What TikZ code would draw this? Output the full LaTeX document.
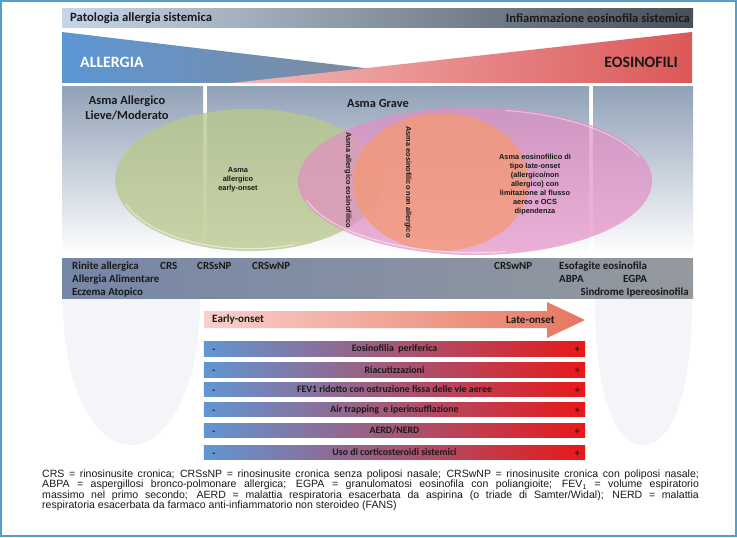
\documentclass[tikz,border=0pt]{standalone}
\usepackage{fontspec}
\setmainfont{Carlito}
\newfontfamily\narrowfont{Liberation Sans}
\usetikzlibrary{positioning}

\definecolor{frameblue}{RGB}{80,160,200}
\definecolor{hdrlight}{RGB}{198,214,232}
\definecolor{hdrdark}{RGB}{72,80,90}
\definecolor{allblue}{RGB}{92,150,212}
\definecolor{allgray}{RGB}{140,134,136}
\definecolor{eospink}{RGB}{242,185,185}
\definecolor{eosred}{RGB}{220,88,88}
\definecolor{panelgray}{RGB}{145,162,184}
\definecolor{bandleft}{RGB}{118,134,166}
\definecolor{bandmid}{RGB}{236,239,243}
\definecolor{bandright}{RGB}{148,153,158}
\definecolor{greenell}{RGB}{186,200,142}
\definecolor{pinkell}{RGB}{228,140,196}
\definecolor{orangeell}{RGB}{246,152,112}
\definecolor{ghostgray}{RGB}{244,245,248}
\definecolor{arrowlight}{RGB}{248,208,202}
\definecolor{arrowdark}{RGB}{232,118,95}
\definecolor{barblue}{RGB}{96,150,212}
\definecolor{bargray}{RGB}{146,142,146}
\definecolor{barred}{RGB}{232,24,24}
\definecolor{darktext}{RGB}{25,25,25}

\begin{document}
\begin{tikzpicture}[x=0.03cm, y=-0.03cm, every node/.style={inner sep=0pt, text=darktext}]
\tikzset{
  hdr/.style={font=\bfseries\fontsize{10.8}{12}\selectfont},
  bold/.style={font=\bfseries\fontsize{9.3}{11}\selectfont},
  onset/.style={font=\bfseries\fontsize{9.5}{11}\selectfont},
  title/.style={font=\bfseries\fontsize{10.6}{12.8}\selectfont, align=center},
  big/.style={font=\bfseries\fontsize{13.5}{15}\selectfont},
  small/.style={font=\narrowfont\bfseries\fontsize{6.3}{7.7}\selectfont, align=center},
  panel/.style={top color=panelgray, bottom color=white},
  ghost/.style={fill=ghostgray},
  bar/.style={left color=barblue, middle color=bargray, right color=barred,
    minimum width=11.43cm, minimum height=0.43cm, font=\bfseries\fontsize{8.4}{9}\selectfont},
  sign/.style={font=\bfseries\fontsize{8.4}{9}\selectfont}
}
\useasboundingbox (0,0) rectangle (737,537);
\fill[white] (0,0) rectangle (737,537);
\draw[frameblue, line width=1.2pt] (1,1) rectangle (736,536);

% header and wedges
\shade[left color=hdrlight, right color=hdrdark] (62,9) rectangle (693,28);
\node[hdr, anchor=west] (hdrL) at (70,18.5) {Patologia allergia sistemica};
\node[hdr, anchor=east] (hdrR) at (690,18.5) {Infiammazione eosinofila sistemica};
\shade[left color=allblue, right color=allgray] (62,32) -- (490,83) -- (62,83) -- cycle;
\shade[left color=eospink, right color=eosred] (232,83) -- (692,32) -- (692,83) -- cycle;
\node[big, anchor=west, text=white] (allergia) at (80,62) {ALLERGIA};
\node[big, anchor=east] (eosinofili) at (678,62) {EOSINOFILI};

% panels
\shade[panel] (62,87) rectangle (203,255);
\shade[panel] (207,87) rectangle (589,255);
\shade[panel] (593,87) rectangle (693,255);
\node[title] (lieve) at (127,107.5) {Asma Allergico\\Lieve/Moderato};
\node[title] (grave) at (378,103) {Asma Grave};

% ellipses
\fill[greenell, opacity=0.78] (249,180) ellipse [x radius=4.02cm, y radius=2.13cm];
\fill[pinkell, opacity=0.68] (475,181) ellipse [x radius=5.31cm, y radius=2.22cm];
\fill[orangeell, opacity=0.72] (441,182) ellipse [x radius=2.64cm, y radius=2.07cm];
\draw[white, opacity=0.5, line width=1pt] (249,180) ++(200:3.95cm and 2.06cm)
  arc[start angle=200, end angle=290, x radius=3.95cm, y radius=2.06cm];
\draw[white, opacity=0.5, line width=1pt] (475,181) ++(195:5.24cm and 2.15cm)
  arc[start angle=195, end angle=280, x radius=5.24cm, y radius=2.15cm];
\draw[white, opacity=0.4, line width=1pt] (475,181) ++(20:5.24cm and 2.15cm)
  arc[start angle=20, end angle=80, x radius=5.24cm, y radius=2.15cm];

\node[small] (early) at (238,180) {Asma\\allergico\\early-onset};
\node[small, rotate=-90] (alleos) at (348,180) {Asma allergico eosinofilico};
\node[small, rotate=-90] (nonall) at (408,182) {Asma eosinofilico non allergico};
\node[small] (late) at (535,185) {Asma eosinofilico di\\tipo late-onset\\(allergico/non\\allergico) con\\limitazione al flusso\\aereo e OCS\\dipendenza};

% band of comorbidities
\shade[left color=bandleft, middle color=bandmid, right color=bandright] (62,258) rectangle (693,298);
\node[bold, anchor=base west] (rinite) at (72,269) {Rinite allergica};
\node[bold, anchor=base west] (crs) at (160,269) {CRS};
\node[bold, anchor=base west] (crssnp) at (197,269) {CRSsNP};
\node[bold, anchor=base west] (crswnpL) at (252,269) {CRSwNP};
\node[bold, anchor=base west] (alim) at (72,282) {Allergia Alimentare};
\node[bold, anchor=base west] (eczema) at (72,295) {Eczema Atopico};
\node[bold, anchor=base west] (crswnpR) at (494,269) {CRSwNP};
\node[bold, anchor=base west] (esof) at (559,269) {Esofagite eosinofila};
\node[bold, anchor=base west] (abpa) at (559,282) {ABPA};
\node[bold, anchor=base west] (egpa) at (623,282) {EGPA};
\node[bold, anchor=base east] (ipereos) at (689,295) {Sindrome Ipereosinofila};

% ghost shapes
\fill[ghost] (63,299) .. controls (63,400) and (100,445) .. (131,445)
  .. controls (162,445) and (200,400) .. (200,299) -- cycle;
\fill[ghost] (595,299) .. controls (595,400) and (616,445) .. (643,445)
  .. controls (670,445) and (692,400) .. (692,299) -- cycle;

% onset arrow
\shade[left color=arrowlight, right color=arrowdark] (204,311) -- (547,311) -- (547,302)
  -- (585,320) -- (547,338) -- (547,328) -- (204,328) -- cycle;
\node[onset, anchor=west] (eonset) at (212,319.5) {Early-onset};
\node[onset, anchor=east] (lonset) at (555,319.5) {Late-onset};

% gradient bars
\foreach \yy/\txt [count=\i] in {349/{Eosinofilia\ \ periferica}, 370/{Riacutizzazioni},
  389.5/{FEV1 ridotto con ostruzione fissa delle vie aeree}, 409.5/{Air trapping\ \ e iperinsufflazione},
  430.5/{AERD/NERD}, 452.5/{Uso di corticosteroidi sistemici}} {
  \node[bar] (bar\i) at (394.5,\yy) {\txt};
  \node[sign, anchor=base] (minus\i) at ([xshift=0.3cm, yshift=-3pt]bar\i.west) {-};
  \node[sign, anchor=base] (plus\i) at ([xshift=-0.24cm, yshift=-3pt]bar\i.east) {+};
}

% footnote
\node[anchor=north west, text width=19.7cm, align=justify,
  font=\narrowfont\fontsize{9}{8.6}\selectfont] (note) at (42,470)
  {CRS = rinosinusite cronica; CRSsNP = rinosinusite cronica senza poliposi nasale; CRSwNP = rinosinusite cronica con poliposi nasale;\linebreak
  ABPA = aspergillosi bronco-polmonare allergica; EGPA = granulomatosi eosinofila con poliangioite; FEV\textsubscript{1} = volume espiratorio\linebreak
  massimo nel primo secondo; AERD = malattia respiratoria esacerbata da aspirina (o triade di Samter/Widal); NERD = malattia\linebreak
  respiratoria esacerbata da farmaco anti-infiammatorio non steroideo (FANS)};
\end{tikzpicture}
\end{document}
